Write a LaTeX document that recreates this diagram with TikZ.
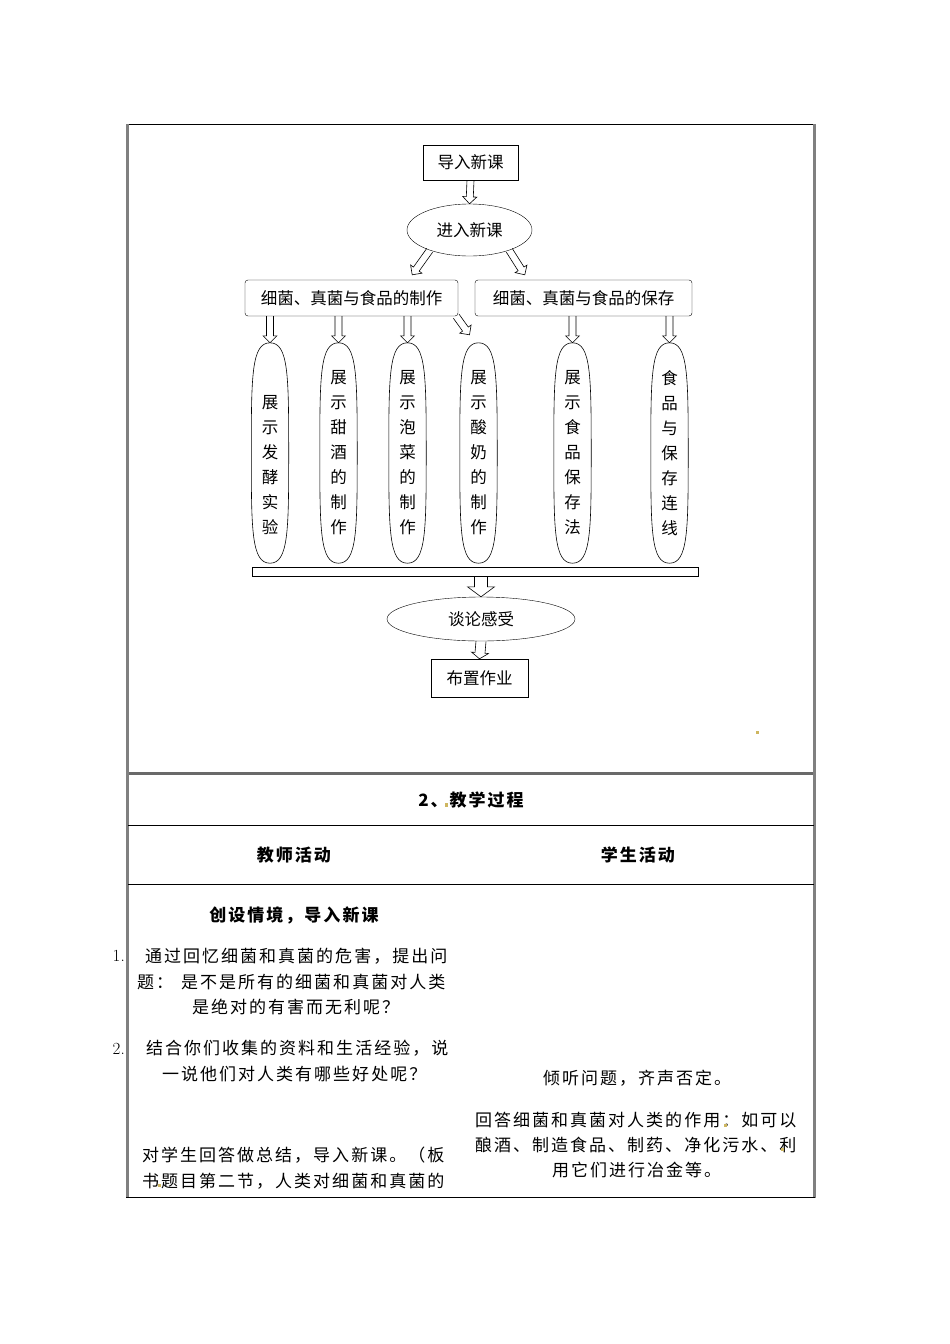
\documentclass[tikz,border=0pt]{standalone}
\usepackage{fontspec}
\usepackage{xcolor}
\usetikzlibrary{shapes.geometric,positioning,calc}
\newfontfamily\cjk{Noto Sans CJK SC}
\newfontfamily\cjkwide[LetterSpace=11.8]{Noto Sans CJK SC}
\newcommand\flowfont{\cjk\fontsize{16.5}{20}\selectfont}
\newcommand\bodyfont{\cjkwide\fontsize{17}{25}\selectfont}
\definecolor{linegray}{RGB}{105,105,105}
\definecolor{markyellow}{RGB}{206,182,96}

% outline block arrow: shaft half width, head half width, head length
\tikzset{
  hollow arrow/.style n args={3}{to path={
    let \p1=(\tikztostart), \p2=(\tikztotarget),
        \n1={atan2(\y2-\y1,\x2-\x1)}, \n2={veclen(\x2-\x1,\y2-\y1)}
    in ($(\p1)+({\n1+90}:#1)$)
    -- ($(\p1)+(\n1:{\n2-#3})+({\n1+90}:#1)$)
    -- ($(\p1)+(\n1:{\n2-#3})+({\n1+90}:#2)$)
    -- (\p2)
    -- ($(\p1)+(\n1:{\n2-#3})+({\n1-90}:#2)$)
    -- ($(\p1)+(\n1:{\n2-#3})+({\n1-90}:#1)$)
    -- ($(\p1)+({\n1-90}:#1)$)
  }}
}

\begin{document}
\begin{tikzpicture}[
    x=1pt, y=-1pt,
    flowbox/.style={rectangle, draw, font=\flowfont, inner sep=0},
    roundbox/.style={rectangle, draw, rounded corners=3pt, font=\flowfont, minimum height=36, inner sep=0},
    oval/.style={ellipse, draw, font=\flowfont, inner sep=0},
    tallbubble/.style={ellipse, minimum width=37, minimum height=220, inner xsep=0, inner ysep=-40pt, align=center, font=\cjk\fontsize{16.5}{25}\selectfont},
    hollow/.style={line width=0.6, hollow arrow={3.5pt}{7pt}{7pt}},
    mid hollow/.style={line width=0.6, hollow arrow={5pt}{8.5pt}{6pt}},
    big hollow/.style={line width=0.6, hollow arrow={6.5pt}{13.5pt}{10pt}},
    cell/.style={font=\bodyfont, inner sep=0, anchor=west},
    head/.style={font=\bodyfont\bfseries, inner sep=0},
    thinline/.style={line width=0.8, black},
    heavyline/.style={line width=2.6, linegray},
    sideline/.style={line width=2.2, linegray!85}
]
\fill[white] (0,0) rectangle (950,1344);
\useasboundingbox (0,0) rectangle (950,1344);

% flow chart
\node[flowbox, minimum width=95, minimum height=35] (intro) at (470.5,162.5) {导入新课};
\node[oval, minimum width=125, minimum height=52] (enter) at (469.5,230) {进入新课};
\node[roundbox, minimum width=213] (make) at (351.5,298) {细菌、真菌与食品的制作};
\node[roundbox, minimum width=217] (keep) at (583.5,298) {细菌、真菌与食品的保存};

\node[tallbubble] (ferment) at (270,453) {\phantom{展}\\展\\示\\发\\酵\\实\\验};
\node[tallbubble] (wine) at (338.5,453) {展\\示\\甜\\酒\\的\\制\\作};
\node[tallbubble] (pickle) at (407.5,453) {展\\示\\泡\\菜\\的\\制\\作};
\node[tallbubble] (yogurt) at (478.5,453) {展\\示\\酸\\奶\\的\\制\\作};
\node[tallbubble] (keepway) at (572.5,453) {展\\示\\食\\品\\保\\存\\法};
\node[tallbubble] (linkup) at (669.5,453) {食\\品\\与\\保\\存\\连\\线};

% fat outline round the tall bubbles
\foreach \b in {ferment,wine,pickle,yogurt,keepway,linkup}
  \draw[line width=0.6] (\b.north) .. controls +(18.5,0) and +(0,-77) .. (\b.east)
    .. controls +(0,77) and +(18.5,0) .. (\b.south)
    .. controls +(-18.5,0) and +(0,77) .. (\b.west)
    .. controls +(0,-77) and +(-18.5,0) .. (\b.north);

\node[rectangle, draw, minimum width=446, minimum height=9, inner sep=0] (bar) at (475,571.5) {};
\node[oval, minimum width=188, minimum height=44] (talk) at (481,619) {谈论感受};
\node[flowbox, minimum width=97, minimum height=38] (homework) at (479.5,678) {布置作业};

\draw[hollow] (intro.south) to (enter.north);
\draw[hollow] (enter.207) to ($(make.north east)+(-46,-5)$);
\draw[hollow] (enter.333) to ($(keep.north west)+(50,-5)$);
\draw[hollow] (make.south -| ferment.north) to (ferment.north);
\draw[hollow] (make.south -| wine.north) to (wine.north);
\draw[hollow] (make.south -| pickle.north) to (pickle.north);
\draw[hollow] ($(make.south east)+(-2,0)$) to ($(yogurt.north)+(-9,-8)$);
\draw[hollow] (keep.south -| keepway.north) to (keepway.north);
\draw[hollow] (keep.south -| linkup.north) to (linkup.north);
\draw[big hollow] (bar.south -| talk.north) to (talk.north);
\draw[mid hollow] (talk.south) to (homework.north);

% table rules
\draw[thinline] (126,124) -- (815,124);
\draw[sideline] (127.5,124) -- (127.5,1198);
\draw[sideline] (814.5,124) -- (814.5,1198);
\draw[heavyline] (129,773.5) -- (813,773.5);
\draw[thinline, double, double distance=1.2, line width=0.6] (462,826) -- (462,1197);
\draw[thinline] (128,825.5) -- (814,825.5);
\draw[thinline] (128,884.5) -- (814,884.5);
\draw[thinline, line width=1] (126,1197.5) -- (815,1197.5);

% table text
\node[head] (title) at (471,800) {2、教学过程};
\node[head] (teacher) at (294,855) {教师活动};
\node[head] (student) at (638,855) {学生活动};
\node[head] (scene) at (294,915) {创设情境，导入新课};

\node[font=\rmfamily\fontsize{17}{20}\selectfont, inner sep=0, anchor=east] (num1) at (125,956) {1.};
\node[cell] (ask1) at (145,956) {通过回忆细菌和真菌的危害，提出问};
\node[cell] (ask2) at (137,982) {题：\hspace{8pt}是不是所有的细菌和真菌对人类};
\node[cell] (ask3) at (192,1007) {是绝对的有害而无利呢？};
\node[font=\rmfamily\fontsize{17}{20}\selectfont, inner sep=0, anchor=east] (num2) at (125,1049) {2.};
\node[cell] (use1) at (146,1048) {结合你们收集的资料和生活经验，说};
\node[cell] (use2) at (162,1074) {一说他们对人类有哪些好处呢？};
\node[cell] (sum1) at (142,1155) {对学生回答做总结，导入新课。（板};
\node[cell] (sum2) at (142,1181) {书题目第二节，人类对细菌和真菌的};

\node[cell] (listen) at (543,1078) {倾听问题，齐声否定。};
\node[cell] (reply1) at (475,1120) {回答细菌和真菌对人类的作用：如可以};
\node[cell] (reply2) at (475,1145) {酿酒、制造食品、制药、净化污水、利};
\node[cell] (reply3) at (552,1170) {用它们进行冶金等。};

% stray marks
\fill[markyellow] (756,731) rectangle (758.5,734);
\fill[markyellow] (445,803) rectangle (447.5,807);
\fill[markyellow] (158,1184) rectangle (161,1187);
\fill[markyellow] (724,1124) rectangle (727,1127);
\fill[markyellow] (781,1148) rectangle (784,1151);
\end{tikzpicture}
\end{document}
